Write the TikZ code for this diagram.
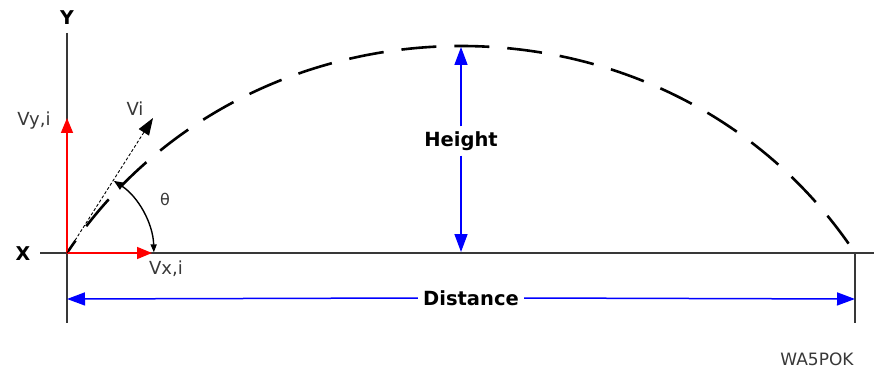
\documentclass[tikz,border=0pt]{standalone}
\usepackage{fontspec}
\setmainfont{DejaVu Sans}
\usetikzlibrary{arrows.meta}
\definecolor{axisgray}{HTML}{383838}
\definecolor{vecred}{HTML}{FF0000}
\definecolor{dimblue}{HTML}{0000FF}
\begin{document}
\begin{tikzpicture}[x=1pt,y=-1pt,
  axisline/.style={draw=axisgray,line width=1.6pt},
  redvec/.style={draw=vecred,line width=1.6pt,-{Triangle[length=15pt,width=12pt]}},
  vivec/.style={draw=black,line width=0.9pt,dash pattern=on 3pt off 2pt,-{Triangle[length=17pt,width=12pt]}},
  traj/.style={draw=black,line width=2.6pt,dash pattern=on 35pt off 18pt,dash phase=20pt},
  anglearc/.style={draw=black,line width=1.4pt,{Triangle[length=10pt,width=8pt]}-{Triangle[length=8pt,width=6pt]}},
  dimline/.style={draw=dimblue,line width=1.5pt,-{Triangle[length=18pt,width=13pt]}},
  lbl/.style={inner sep=0pt,font=\fontsize{18}{21}\selectfont,text=axisgray},
  axlbl/.style={inner sep=0pt,font=\fontsize{19}{22}\selectfont\bfseries,text=black},
  dimlbl/.style={inner xsep=5pt,inner ysep=5pt,font=\fontsize{19.5}{22}\selectfont\bfseries,text=black}]
\useasboundingbox[fill=white] (0,0) rectangle (874,371);

% key points
\coordinate (O) at (67,253);
\coordinate (Ytop) at (67,33);
\coordinate (Ybot) at (67,323);
\coordinate (Xl) at (40,253);
\coordinate (Xr) at (874,253);
\coordinate (Vyend) at (67,118);
\coordinate (Vxend) at (152,253);
\coordinate (Viend) at (153,118);
\coordinate (Foot) at (855,253);
\coordinate (Fbot) at (855,323);
\coordinate (Peak) at (461,47);
\coordinate (Hbase) at (461,252);
\coordinate (Dl) at (67,299);
\coordinate (Dr) at (855,299);
\coordinate (C1) at (251,-23);
\coordinate (C2) at (671,-23);

% axes
\draw[axisline] (Ytop) -- (Ybot);
\draw[axisline] (Xl) -- (Xr);
\draw[axisline] (Foot) -- (Fbot);
\node[axlbl] (ylab) at (67,18) {Y};
\node[axlbl] (xlab) at (23,254) {X};

% trajectory
\draw[traj] (O) .. controls (C1) and (C2) .. (Foot);

% velocity vectors
\draw[redvec] (O) -- (Vyend);
\draw[redvec] (O) -- (Vxend);
\draw[vivec] (O) -- (Viend);
\node[lbl] (vylab) at (34,121) {Vy,i};
\node[lbl] (vxlab) at (166,269) {Vx,i};
\node[lbl] (vilab) at (135,109) {Vi};

% angle
\draw[anglearc] (O) ++(-57:86) arc[start angle=-57,end angle=-1.5,radius=88];
\node[lbl,font=\fontsize{16}{19}\selectfont] (theta) at (165,199) {θ};

% height
\node[dimlbl] (hlab) at (461,141) {Height};
\draw[dimline] (hlab.north) -- (Peak);
\draw[dimline] (hlab.south) -- (Hbase);

% distance
\node[dimlbl] (dlab) at (471,298) {Distance};
\draw[dimline] (dlab.west) -- (Dl);
\draw[dimline] (dlab.east) -- (Dr);

% credit
\node[lbl,font=\fontsize{17}{20}\selectfont] (credit) at (817,359) {WA5POK};
\end{tikzpicture}
\end{document}
